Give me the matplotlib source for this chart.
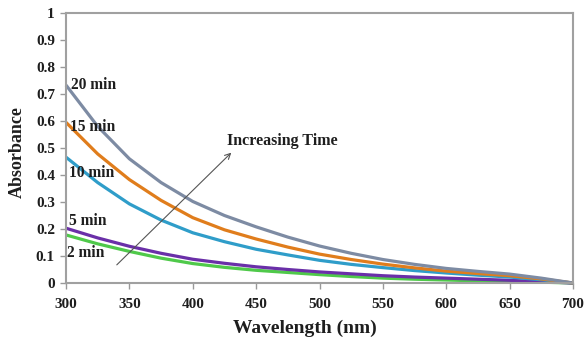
import matplotlib
matplotlib.use("Agg")
import matplotlib.pyplot as plt

wavelength = [300, 325, 350, 375, 400, 425, 450, 475, 500, 525, 550, 575, 600, 625, 650, 675, 700]
abs_20min = [0.733, 0.580, 0.460, 0.372, 0.302, 0.250, 0.208, 0.170, 0.137, 0.110, 0.087, 0.069, 0.054, 0.043, 0.033, 0.018, 0.0]
abs_15min = [0.595, 0.478, 0.383, 0.306, 0.242, 0.197, 0.163, 0.133, 0.107, 0.087, 0.070, 0.056, 0.044, 0.035, 0.027, 0.015, 0.0]
abs_10min = [0.466, 0.372, 0.293, 0.233, 0.186, 0.153, 0.125, 0.104, 0.084, 0.069, 0.057, 0.046, 0.037, 0.029, 0.022, 0.012, 0.0]
abs_5min = [0.203, 0.167, 0.136, 0.110, 0.088, 0.073, 0.060, 0.050, 0.041, 0.034, 0.027, 0.022, 0.018, 0.014, 0.010, 0.005, 0.0]
abs_2min = [0.178, 0.145, 0.117, 0.092, 0.072, 0.058, 0.047, 0.039, 0.031, 0.024, 0.018, 0.014, 0.011, 0.008, 0.005, 0.003, 0.0]

series_labels = ["2 min", "5 min", "10 min", "15 min", "20 min"]
series_values = [abs_2min, abs_5min, abs_10min, abs_15min, abs_20min]
colors = ["#4fc94a", "#6a2fa8", "#2f9dc9", "#e07d1c", "#7d8ba3"]
label_pos = [(301, 0.111), (302, 0.23), (302, 0.407), (303, 0.578), (304, 0.733)]

xticks = [300, 350, 400, 450, 500, 550, 600, 650, 700]
yticks = [0, 0.1, 0.2, 0.3, 0.4, 0.5, 0.6, 0.7, 0.8, 0.9, 1]
ytick_labels = ["0", "0.1", "0.2", "0.3", "0.4", "0.5", "0.6", "0.7", "0.8", "0.9", "1"]

font = "Liberation Serif"
txtc = "#1e1e1e"
plt.rcParams["font.family"] = [font, "DejaVu Serif"]
plt.rcParams["font.weight"] = "bold"

fig = plt.figure(figsize=(5.86, 3.42), dpi=100)
ax = fig.add_axes([66 / 586, 1 - 283 / 342, (573 - 66) / 586, (283 - 13) / 342])

for vals, c in zip(series_values, colors):
    ax.plot(wavelength, vals, color=c, lw=2.3, solid_capstyle="butt",
            solid_joinstyle="round", clip_on=False)

for lab, (x, y) in zip(series_labels, label_pos):
    ax.text(x, y, lab, fontsize=11.2, fontweight="bold",
            ha="left", va="center", color=txtc)

ax.annotate("", xy=(432, 0.49), xytext=(338.5, 0.06),
            arrowprops=dict(arrowstyle="->", color="#555555", lw=0.8,
                            mutation_scale=10))
ax.text(427, 0.527, "Increasing Time", fontsize=11.5, fontweight="bold",
        ha="left", va="center", color=txtc)

ax.set_xlim(300, 700)
ax.set_ylim(0, 1)
ax.tick_params(axis="both", direction="out", length=4, width=1, color="#999999",
               labelsize=11, labelcolor=txtc)
ax.tick_params(axis="x", pad=7)
ax.tick_params(axis="y", pad=4)
ax.set_xticks(xticks)
ax.set_xticklabels([str(t) for t in xticks], fontsize=11, fontweight="bold")
ax.set_yticks(yticks)
ax.set_yticklabels(ytick_labels, fontsize=11, fontweight="bold")
for s in ax.spines.values():
    s.set_color("#a0a0a0")
    s.set_linewidth(1.5)

ax.text((305 - 66) / 507, (283 - 328) / 270, "Wavelength (nm)", transform=ax.transAxes,
        fontsize=14, fontweight="bold", color=txtc,
        ha="center", va="center")
ax.text((17.5 - 66) / 507, (283 - 152.5) / 270, "Absorbance", transform=ax.transAxes,
        fontsize=13, fontweight="bold", color=txtc,
        ha="center", va="center", rotation=90)

fig.savefig("out.png", dpi=100)
